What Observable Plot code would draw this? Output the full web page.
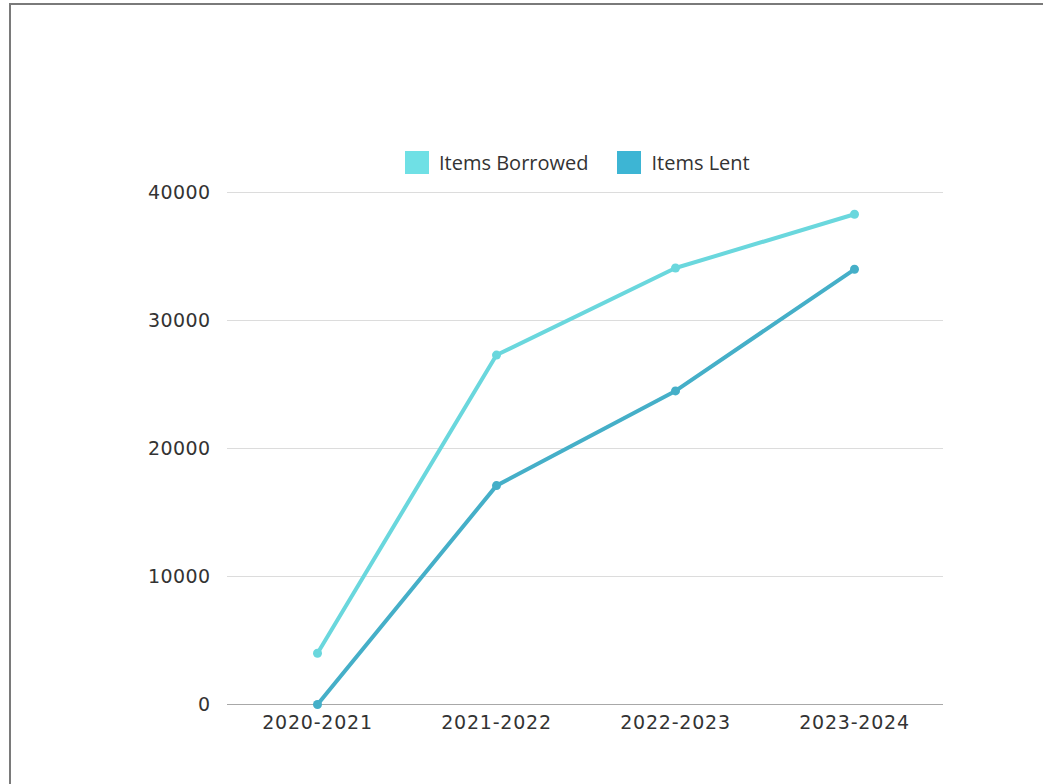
<!DOCTYPE html>
<html>
<head>
<meta charset="utf-8">
<script src="https://cdn.jsdelivr.net/npm/d3@7"></script>
<script src="https://cdn.jsdelivr.net/npm/@observablehq/plot@0.6"></script>
<style>
  html, body { margin: 0; padding: 0; background: #fff; width: 1043px; height: 784px; overflow: hidden; }
  #frame { position: absolute; left: 9px; top: 3px; width: 1200px; height: 1000px; border: 2px solid #7a7a7a; box-sizing: border-box; pointer-events: none; z-index: 3; }
  #chart { position: absolute; left: 0; top: 0; z-index: 1; }
  #chart svg { letter-spacing: 0.8px; }
  #chart [aria-label^="y-axis"] text { letter-spacing: 0.4px; }
  #legend { position: absolute; left: 405px; top: 149px; display: flex; align-items: center; font-family: "Open Sans", sans-serif; font-size: 20px; color: #333; z-index: 2; }
  .item { display: flex; align-items: center; margin-right: 29px; }
  .sw { width: 24px; height: 23px; margin-right: 10px; }
</style>
</head>
<body>
<div id="chart"></div>
<div id="legend"></div>
<div id="frame"></div>
<script>
const years = ["2020-2021", "2021-2022", "2022-2023", "2023-2024"];
const borrowed = [4000, 27300, 34100, 38300];
const lent = [0, 17100, 24500, 34000];
const yTicks = [0, 10000, 20000, 30000, 40000];
const seriesNames = ["Items Borrowed", "Items Lent"];
const lineColors = ["#6ad7dd", "#45afc8"];
const swatchColors = ["#6fe0e5", "#3db5d4"];

const rows = [];
years.forEach((yr, i) => {
  rows.push({ year: yr, value: borrowed[i], series: seriesNames[0] });
  rows.push({ year: yr, value: lent[i], series: seriesNames[1] });
});

const chart = Plot.plot({
  width: 1043,
  height: 784,
  marginTop: 192,
  marginBottom: 80,
  marginLeft: 227,
  marginRight: 100,
  style: { fontSize: "19px", fontFamily: "DejaVu Sans", color: "#333", background: "transparent" },
  x: { type: "point", domain: years, padding: 0.5, label: null, tickSize: 0, tickPadding: 11 },
  y: { domain: [0, 40000], ticks: yTicks, label: null, tickSize: 0, tickPadding: 17, tickFormat: d => String(d) },
  color: { domain: seriesNames, range: lineColors },
  marks: [
    Plot.ruleY(yTicks.filter(d => d > 0), { stroke: "#dcdcdc", strokeWidth: 1 }),
    Plot.ruleY([0], { stroke: "#a8a8a8", strokeWidth: 1.2 }),
    Plot.line(rows, { x: "year", y: "value", z: "series", stroke: "series", strokeWidth: 4, strokeLinejoin: "round" }),
    Plot.dot(rows, { x: "year", y: "value", fill: "series", r: 4.5 })
  ]
});
document.getElementById("chart").appendChild(chart);

const legend = document.getElementById("legend");
seriesNames.forEach((name, i) => {
  const it = document.createElement("div");
  it.className = "item";
  const sw = document.createElement("div");
  sw.className = "sw";
  sw.style.background = swatchColors[i];
  const t = document.createElement("span");
  t.textContent = name;
  it.appendChild(sw);
  it.appendChild(t);
  legend.appendChild(it);
});
</script>
</body>
</html>
